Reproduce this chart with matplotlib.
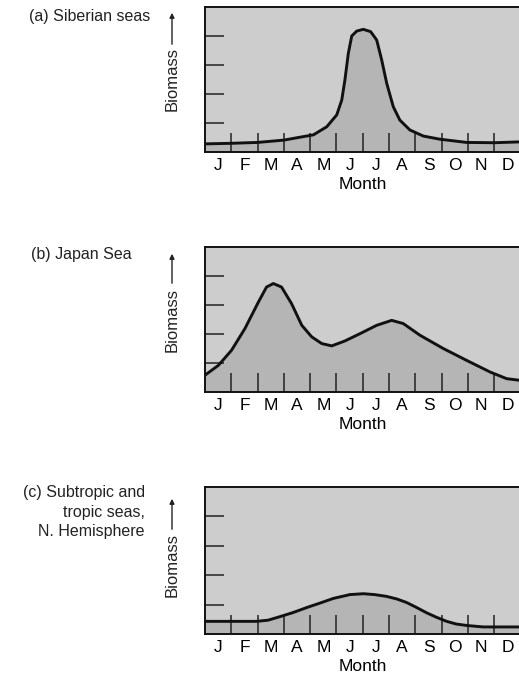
import numpy as np
import matplotlib.pyplot as plt
from matplotlib.patches import FancyArrowPatch

plt.rcParams['font.family'] = ['Liberation Sans', 'DejaVu Sans']

# month labels, centred between the boundary ticks
months = ['J', 'F', 'M', 'A', 'M', 'J', 'J', 'A', 'S', 'O', 'N', 'D']

# (a) Siberian seas: position in months (0 = start of Jan) and biomass
sib_t = [0, 1.0, 2.0, 3.0, 3.61, 4.12, 4.63, 5.01, 5.2, 5.32, 5.45, 5.58,
         5.77, 6.02, 6.3, 6.53, 6.72, 6.91, 7.16, 7.41, 7.79, 8.3, 8.94,
         9.95, 11.0, 12.0]
sib_b = [0.28, 0.3, 0.33, 0.41, 0.51, 0.59, 0.87, 1.28, 1.79, 2.48, 3.4,
         4.0, 4.17, 4.23, 4.15, 3.86, 3.17, 2.37, 1.56, 1.1, 0.76, 0.55,
         0.44, 0.33, 0.32, 0.35]

# (b) Japan Sea
jap_t = [0, 0.51, 1.01, 1.52, 2.03, 2.34, 2.6, 2.91, 3.29, 3.68, 4.06,
         4.44, 4.82, 5.32, 5.89, 6.53, 7.1, 7.54, 8.17, 9.06, 9.95, 10.84,
         11.47, 12.0]
jap_b = [0.58, 0.92, 1.44, 2.19, 3.1, 3.62, 3.74, 3.62, 3.05, 2.3, 1.9,
         1.67, 1.59, 1.76, 2.01, 2.3, 2.47, 2.36, 1.96, 1.5, 1.09, 0.69,
         0.46, 0.4]

# (c) Subtropic and tropic seas, N. Hemisphere
trp_t = [0, 1.96, 2.4, 2.85, 3.35, 3.87, 4.4, 4.88, 5.51, 6.02, 6.45, 6.9,
         7.3, 7.67, 8.05, 8.43, 8.8, 9.19, 9.55, 9.95, 10.58, 12.0]
trp_b = [0.43, 0.43, 0.47, 0.59, 0.73, 0.9, 1.06, 1.21, 1.34, 1.37, 1.34,
         1.28, 1.19, 1.07, 0.9, 0.72, 0.57, 0.43, 0.34, 0.29, 0.24, 0.24]

titles = ['(a) Siberian seas', '(b) Japan Sea',
          '(c) Subtropic and\ntropic seas,\nN. Hemisphere']
series = [(sib_t, sib_b), (jap_t, jap_b), (trp_t, trp_b)]

W, H = 519, 683
fig = plt.figure(figsize=(W / 100, H / 100), dpi=100)

# axes boxes in pixels: top, bottom
boxes = [(7, 152), (247, 392), (487, 634)]
title_pos = [(29, 17, 'left'), (31, 255, 'left'), (145, 512, 'right')]
bio_pos = [(79, 47, 10), (320, 286, 251), (565, 532, 496)]

bg = '#cdcdcd'
fill = '#b5b5b5'

for i, (t, b) in enumerate(series):
    top, bot = boxes[i]
    ax = fig.add_axes([205 / W, 1 - bot / H, 1.003 - 205 / W, (bot - top) / H])
    ax.set_facecolor(bg)
    ax.fill_between(t, 0, b, color=fill, lw=0)
    ax.plot(t, b, color='#111111', lw=2.1, solid_capstyle='round',
            solid_joinstyle='round')
    ax.set_xlim(0, 12)
    ax.set_ylim(0, 5)

    ax.set_xticks(np.arange(12) + 0.5)
    ax.set_xticklabels(months, fontsize=12.5)
    ax.set_xticks(np.arange(1, 12), minor=True)
    ax.tick_params(axis='x', which='major', length=0, pad=4)
    ax.tick_params(axis='x', which='minor', direction='in', length=14,
                   width=1.1, color='#222222')
    ax.set_yticks([1, 2, 3, 4])
    ax.set_yticklabels([])
    ax.tick_params(axis='y', direction='in', length=14, width=1.1,
                   color='#222222')
    for s in ax.spines.values():
        s.set_linewidth(1.4)
        s.set_color('#111111')
    ax.set_xlabel('Month', fontsize=12.5, labelpad=3)

    # panel title
    tx, ty, ha = title_pos[i]
    fig.text(tx / W, 1 - ty / H, titles[i], fontsize=11.5, ha=ha, va='center',
             multialignment=ha, linespacing=1.35, color='#222222')

    # rotated "Biomass" with an upward arrow
    cy, a0, a1 = bio_pos[i]
    fig.text(172 / W, 1 - cy / H, 'Biomass', rotation=90, fontsize=12,
             ha='center', va='center', color='#222222')
    fig.patches.append(FancyArrowPatch(
        (172 / W, 1 - a0 / H), (172 / W, 1 - a1 / H),
        transform=fig.transFigure, arrowstyle='-|>', mutation_scale=7,
        lw=1.0, color='#222222'))

fig.savefig('out.png', dpi=100)
